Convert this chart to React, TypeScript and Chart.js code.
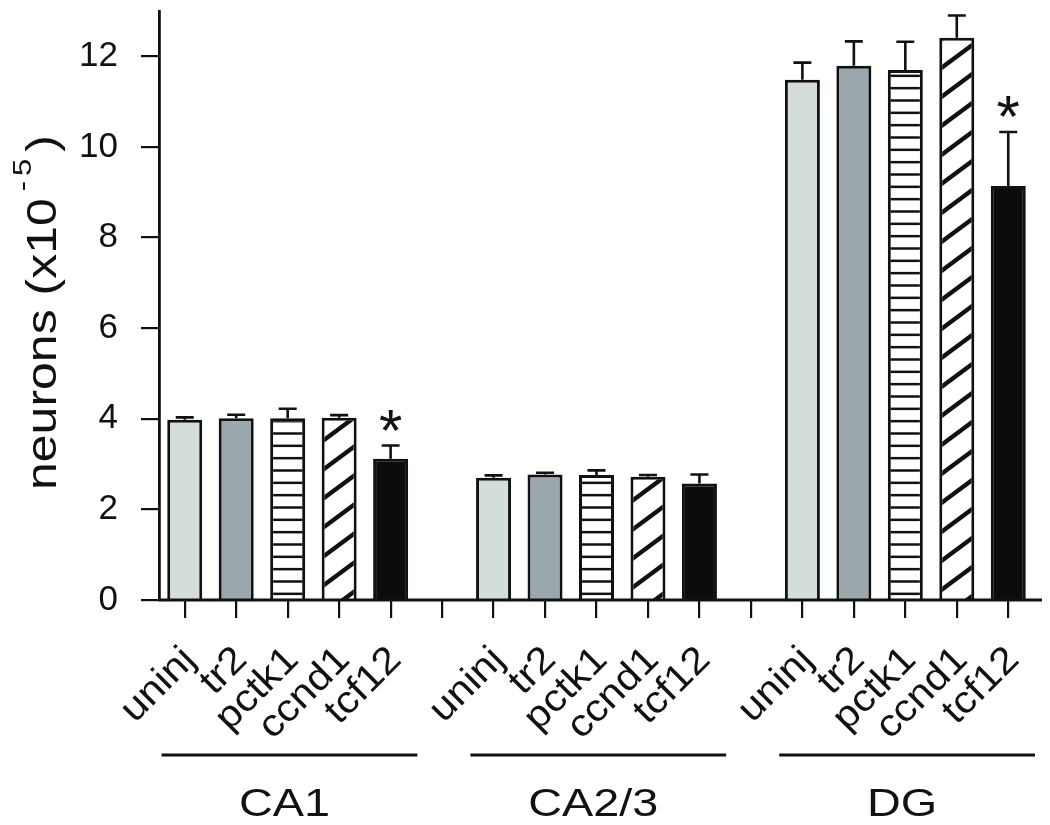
import React, { useEffect, useRef } from 'react';
import { Chart, registerables } from 'chart.js';

Chart.register(...registerables);

// ---------- data ----------
const groups = ['CA1', 'CA2/3', 'DG'];
const conditions = ['uninj', 'tr2', 'pctk1', 'ccnd1', 'tcf12'];

const ca1Means = [3.98, 4.01, 4.01, 4.02, 3.12];
const ca1Errors = [0.05, 0.08, 0.21, 0.06, 0.29];
const ca1Significant = [false, false, false, false, true];

const ca23Means = [2.7, 2.77, 2.76, 2.72, 2.57];
const ca23Errors = [0.05, 0.04, 0.1, 0.04, 0.2];
const ca23Significant = [false, false, false, false, false];

const dgMeans = [11.48, 11.79, 11.7, 12.41, 9.14];
const dgErrors = [0.38, 0.54, 0.62, 0.49, 1.19];
const dgSignificant = [false, false, false, false, true];

const yTicks = [0, 2, 4, 6, 8, 10, 12];
const yMax = 13;
const yTitleMain = 'neurons (x10';
const yTitleSupMinus = '-';
const yTitleSupDigit = '5';
const yTitleClose = ')';

const FONT = '"Liberation Sans", Arial, Helvetica, sans-serif';
const INK = '#111111';

function hLinePattern(): CanvasPattern | string {
  const t = document.createElement('canvas');
  t.width = 8;
  t.height = 37;
  const c = t.getContext('2d');
  if (!c) return '#fff';
  c.fillStyle = '#ffffff';
  c.fillRect(0, 0, 8, 37);
  c.strokeStyle = INK;
  c.lineWidth = 2.5;
  [37 / 6, 37 / 2, (5 * 37) / 6].forEach((yy) => {
    c.beginPath();
    c.moveTo(0, yy);
    c.lineTo(8, yy);
    c.stroke();
  });
  const p = c.createPattern(t, 'repeat');
  return p || '#fff';
}

function diagPattern(): CanvasPattern | string {
  const W = 39;
  const H = 29;
  const t = document.createElement('canvas');
  t.width = W;
  t.height = H;
  const c = t.getContext('2d');
  if (!c) return '#fff';
  c.fillStyle = '#ffffff';
  c.fillRect(0, 0, W, H);
  c.strokeStyle = INK;
  c.lineWidth = 4.3;
  for (let k = -1; k <= 1; k++) {
    c.beginPath();
    c.moveTo(-W, 2 * H + k * H);
    c.lineTo(2 * W, -H + k * H);
    c.stroke();
  }
  const p = c.createPattern(t, 'repeat');
  return p || '#fff';
}

export default function App() {
  const ref = useRef<HTMLCanvasElement>(null);

  useEffect(() => {
    const canvas = ref.current;
    if (!canvas) return;

    const fillFor = (ci: number): any => {
      if (ci === 0) return '#d3dddc';
      if (ci === 1) return '#9aa8ad';
      if (ci === 2) return hLinePattern();
      if (ci === 3) return diagPattern();
      return '#0b0d0c';
    };

    const groupData = [
      { name: groups[0], means: ca1Means, errs: ca1Errors, sig: ca1Significant },
      { name: groups[1], means: ca23Means, errs: ca23Errors, sig: ca23Significant },
      { name: groups[2], means: dgMeans, errs: dgErrors, sig: dgSignificant },
    ];

    const labels: string[] = [];
    const values: (number | null)[] = [];
    const errors: (number | null)[] = [];
    const signif: boolean[] = [];
    const fills: any[] = [];
    const ranges: { name: string; first: number; last: number }[] = [];

    groupData.forEach((g, gi) => {
      const first = labels.length;
      conditions.forEach((c, ci) => {
        labels.push(c);
        values.push(g.means[ci]);
        errors.push(g.errs[ci]);
        signif.push(g.sig[ci]);
        fills.push(fillFor(ci));
      });
      ranges.push({ name: g.name, first, last: labels.length - 1 });
      if (gi < groupData.length - 1) {
        labels.push('');
        values.push(null);
        errors.push(null);
        signif.push(false);
        fills.push('rgba(0,0,0,0)');
      }
    });

    const annot = {
      id: 'annot',
      afterDatasetsDraw(chart: any) {
        const ctx = chart.ctx;
        const ys = chart.scales.y;
        const meta = chart.getDatasetMeta(0);
        ctx.save();
        ctx.strokeStyle = INK;
        ctx.fillStyle = INK;
        ctx.lineWidth = 2.6;
        values.forEach((v, i) => {
          if (v == null) return;
          const bar = meta.data[i];
          const px = bar.x;
          const yTop = ys.getPixelForValue(v);
          const yCap = ys.getPixelForValue(v + (errors[i] as number));
          ctx.beginPath();
          ctx.moveTo(px, yTop);
          ctx.lineTo(px, yCap);
          ctx.moveTo(px - 9, yCap);
          ctx.lineTo(px + 9, yCap);
          ctx.stroke();
          if (signif[i]) {
            ctx.font = `60px ${FONT}`;
            ctx.textAlign = 'center';
            ctx.textBaseline = 'alphabetic';
            ctx.fillText('*', px, yCap - 29 + 0.575 * 60);
          }
        });
        ctx.restore();
      },
      afterDraw(chart: any) {
        const ctx = chart.ctx;
        const xs = chart.scales.x;
        const area = chart.chartArea;
        ctx.save();
        ctx.strokeStyle = INK;
        ctx.fillStyle = INK;
        // x axis line
        ctx.lineWidth = 2.8;
        ctx.beginPath();
        ctx.moveTo(area.left, area.bottom);
        ctx.lineTo(chart.width, area.bottom);
        ctx.stroke();

        // rotated category labels
        labels.forEach((lab, i) => {
          if (!lab) return;
          const px = xs.getPixelForValue(i);
          ctx.save();
          ctx.translate(px + 5, area.bottom + 54);
          ctx.rotate(-Math.PI / 4);
          ctx.scale(1.1, 1);
          ctx.font = `38px ${FONT}`;
          ctx.textAlign = 'right';
          ctx.textBaseline = 'middle';
          ctx.fillText(lab, 0, 0);
          ctx.restore();
        });

        // group brackets & labels
        const step = xs.getPixelForValue(1) - xs.getPixelForValue(0);
        ranges.forEach((r) => {
          const x0 = xs.getPixelForValue(r.first) - step * 0.45;
          const x1 = xs.getPixelForValue(r.last) + step * 0.52;
          ctx.lineWidth = 2.8;
          ctx.beginPath();
          ctx.moveTo(x0, 747);
          ctx.lineTo(x1, 747);
          ctx.stroke();
          ctx.save();
          ctx.translate((x0 + x1) / 2 - 5, 808);
          ctx.scale(1.2, 1);
          ctx.font = `39px ${FONT}`;
          ctx.textAlign = 'center';
          ctx.textBaseline = 'alphabetic';
          ctx.fillText(r.name, 0, 0);
          ctx.restore();
        });

        // y title
        ctx.save();
        ctx.translate(48, 482);
        ctx.rotate(-Math.PI / 2);
        ctx.scale(1.19, 1);
        ctx.textAlign = 'left';
        ctx.textBaseline = 'alphabetic';
        ctx.font = `42px ${FONT}`;
        ctx.fillText(yTitleMain, 0, 0);
        let pos = ctx.measureText(yTitleMain).width;
        ctx.font = `26px ${FONT}`;
        pos += 6;
        ctx.fillText(yTitleSupMinus, pos, -25);
        pos += ctx.measureText(yTitleSupMinus).width + 4;
        ctx.fillText(yTitleSupDigit, pos, -25);
        pos += ctx.measureText(yTitleSupDigit).width + 6;
        ctx.font = `42px ${FONT}`;
        ctx.fillText(yTitleClose, pos, 0);
        ctx.restore();

        ctx.restore();
      },
    };

    const chart = new Chart(canvas, {
      type: 'bar',
      data: {
        labels,
        datasets: [
          {
            data: values as any,
            backgroundColor: fills,
            borderColor: INK,
            borderWidth: 3,
            barPercentage: 0.68,
            categoryPercentage: 1,
          },
        ],
      },
      options: {
        responsive: false,
        animation: false,
        devicePixelRatio: 1,
        layout: { padding: { top: 3, right: 8, left: 0, bottom: 0 } },
        plugins: {
          legend: { display: false },
          tooltip: { enabled: false },
          title: { display: false },
        },
        scales: {
          x: {
            type: 'category',
            offset: true,
            grid: {
              display: true,
              drawOnChartArea: false,
              drawTicks: true,
              tickLength: 18,
              offset: false,
              color: INK,
              lineWidth: 2.2,
            },
            border: { display: false },
            ticks: {
              display: false,
              autoSkip: false,
            },
            afterFit: (s: any) => {
              s.height = 217;
              s.paddingLeft = 0;
              s.paddingRight = 0;
            },
          },
          y: {
            min: 0,
            max: yMax,
            afterBuildTicks: (s: any) => {
              s.ticks = yTicks.map((v) => ({ value: v }));
            },
            grid: {
              drawOnChartArea: false,
              drawTicks: true,
              tickLength: 18,
              color: INK,
              lineWidth: 2.2,
            },
            border: { display: true, color: INK, width: 2.8 },
            ticks: {
              padding: 23,
              color: INK,
              font: { family: FONT, size: 35 },
            },
            afterFit: (s: any) => {
              s.width = 151;
              s.paddingTop = 0;
              s.paddingBottom = 0;
            },
          },
        },
      },
      plugins: [annot],
    });

    return () => chart.destroy();
  }, []);

  return <canvas ref={ref} width={1034} height={809} style={{ display: 'block' }} />;
}
